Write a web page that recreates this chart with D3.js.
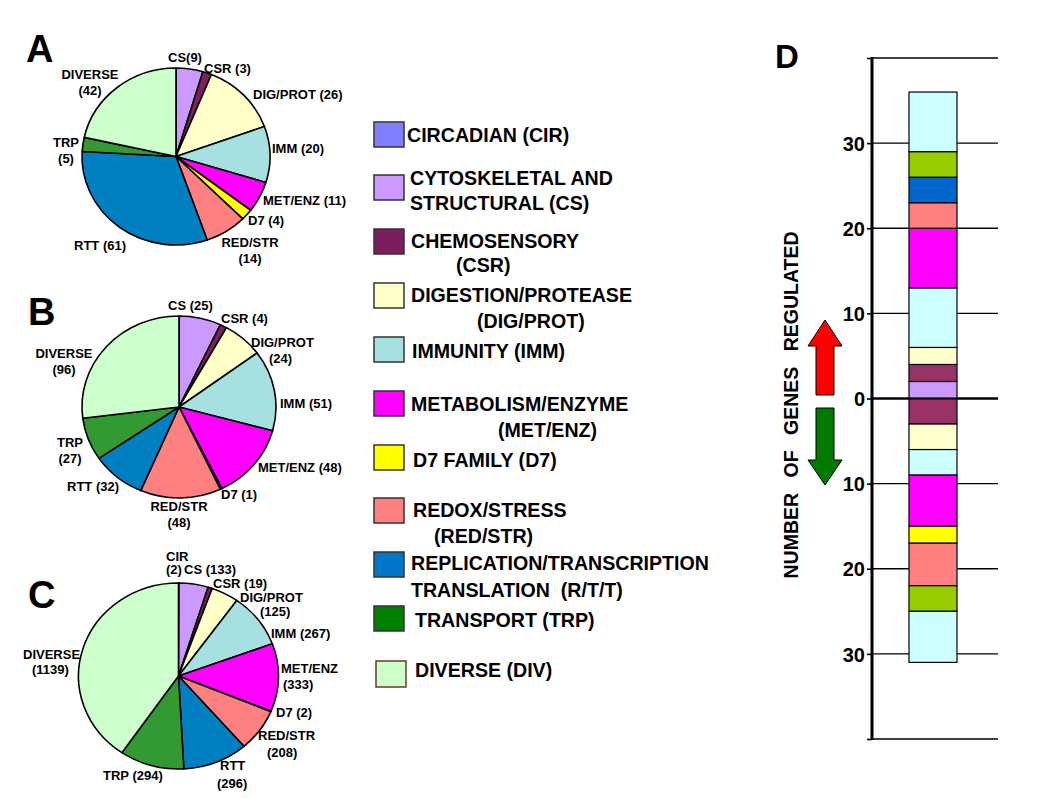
<!DOCTYPE html>
<html><head><meta charset="utf-8">
<script src="https://cdn.jsdelivr.net/npm/d3@7"></script>
<style>
body{margin:0;background:#fff}
text{font-family:"Liberation Sans",Arial,Helvetica,sans-serif;font-weight:bold;fill:#000}
</style>
</head><body>
<svg id="chart" width="1050" height="798"></svg>
<script>
// ---------------- DATA ----------------
const categories = ["CIR","CS","CSR","DIG/PROT","IMM","MET/ENZ","D7","RED/STR","RTT","TRP","DIVERSE"];
const valuesA = [0, 9, 3, 26, 20, 11, 4, 14, 61, 5, 42];
const valuesB = [0, 25, 4, 24, 51, 48, 1, 48, 32, 27, 96];
const valuesC = [2, 133, 19, 125, 267, 333, 2, 208, 296, 294, 1139];

const labelsA = [[], ["CS(9)"], ["CSR (3)"], ["DIG/PROT (26)"], ["IMM (20)"], ["MET/ENZ (11)"], ["D7 (4)"], ["RED/STR","(14)"], ["RTT (61)"], ["TRP","(5)"], ["DIVERSE","(42)"]];
const labelsB = [[], ["CS (25)"], ["CSR (4)"], ["DIG/PROT","(24)"], ["IMM (51)"], ["MET/ENZ (48)"], ["D7 (1)"], ["RED/STR","(48)"], ["RTT (32)"], ["TRP","(27)"], ["DIVERSE","(96)"]];
const labelsC = [["CIR","(2)"], ["CS (133)"], ["CSR (19)"], ["DIG/PROT","(125)"], ["IMM (267)"], ["MET/ENZ","(333)"], ["D7 (2)"], ["RED/STR","(208)"], ["RTT","(296)"], ["TRP (294)"], ["DIVERSE","(1139)"]];

const legendLabels = [
  ["CIRCADIAN (CIR)"],
  ["CYTOSKELETAL AND","STRUCTURAL (CS)"],
  ["CHEMOSENSORY","(CSR)"],
  ["DIGESTION/PROTEASE","(DIG/PROT)"],
  ["IMMUNITY (IMM)"],
  ["METABOLISM/ENZYME","(MET/ENZ)"],
  ["D7 FAMILY (D7)"],
  ["REDOX/STRESS","(RED/STR)"],
  ["REPLICATION/TRANSCRIPTION","TRANSLATION  (R/T/T)"],
  ["TRANSPORT (TRP)"],
  ["DIVERSE (DIV)"]
];

const dUpCats = ["CS","CSR","DIG/PROT","IMM","MET/ENZ","RED/STR","RTT","TRP","DIVERSE"];
const dUpCounts = [2, 2, 2, 7, 7, 3, 3, 3, 7];
const dDownCats = ["CSR","DIG/PROT","IMM","MET/ENZ","D7","RED/STR","TRP","DIVERSE"];
const dDownCounts = [3, 3, 3, 6, 2, 5, 3, 6];
const dTicks = [40, 30, 20, 10, 0, -10, -20, -30, -40];
const dAxisTitle = "NUMBER OF GENES REGULATED";

// ---------------- STYLES ----------------
const pieColors = {"CIR":"#8080ff","CS":"#cc99ff","CSR":"#7f1f5f","DIG/PROT":"#ffffc8","IMM":"#a6e0e0",
  "MET/ENZ":"#ff00ff","D7":"#ffff00","RED/STR":"#ff8080","RTT":"#0080c0","TRP":"#339933","DIVERSE":"#ccffcc"};
const legendColors = Object.assign({}, pieColors, {"TRP":"#007f00","CSR":"#7a1f5c","RTT":"#0077c8"});
const dColors = {"CS":"#cc99ff","CSR":"#993366","DIG/PROT":"#ffffcc","IMM":"#ccffff","MET/ENZ":"#ff00ff",
  "D7":"#ffff00","RED/STR":"#ff8080","RTT":"#0066cc","TRP":"#99cc00","DIVERSE":"#ccffff"};

const svg = d3.select("#chart");

// ---------------- PIES ----------------
const pies = [
  {letter:"A", lx:26, ly:62, values:valuesA, labels:labelsA, cx:176, cy:156.5, rx:94, ry:88.5,
   pos:[null,[168,62,"start"],[204,73,"start"],[253,99,"start"],[272,153,"start"],[263,205,"start"],[248,225,"start"],[250,247,"middle"],[74,250,"start"],[66,147,"middle"],[90,79,"middle"]]},
  {letter:"B", lx:28, ly:325, values:valuesB, labels:labelsB, cx:179, cy:407, rx:97, ry:91,
   pos:[null,[168,310,"start"],[221,323,"start"],[[251,347,"start"],[269,363,"start"]],[280,408,"start"],[258,472,"start"],[221,499,"start"],[179,511,"middle"],[67,491,"start"],[70,447,"middle"],[64,358,"middle"]]},
  {letter:"C", lx:28, ly:608, values:valuesC, labels:labelsC, cx:178.5, cy:676, rx:100, ry:93,
   pos:[[[166,561,"start"],[166,574,"start"]],[184,574,"start"],[213,588,"start"],[[240,602,"start"],[260,616,"start"]],[271,638,"start"],[[281,673,"start"],[283,689,"start"]],[276,717,"start"],[[258,740,"start"],[267,757,"start"]],[[220,770,"start"],[217,788,"start"]],[103,780,"start"],[[23,659,"start"],[32,674,"start"]]]}
];

const pieGen = d3.pie().sort(null).value(d => d.v);

pies.forEach(p => {
  svg.append("text").attr("x", p.lx).attr("y", p.ly).attr("font-size", 38).text(p.letter);
  const data = categories.map((c, i) => ({cat:c, v:p.values[i], i})).filter(d => d.v > 0);
  const arc = d3.arc().innerRadius(0).outerRadius(p.ry);
  const g = svg.append("g").attr("transform", `translate(${p.cx},${p.cy}) scale(${p.rx/p.ry},1)`);
  g.selectAll("path").data(pieGen(data)).join("path")
    .attr("d", arc)
    .attr("fill", d => pieColors[d.data.cat])
    .attr("stroke", "#000").attr("stroke-width", 1.6)
    .attr("stroke-linejoin", "round")
    .attr("vector-effect", "non-scaling-stroke");
  // labels
  categories.forEach((c, i) => {
    const lines = p.labels[i];
    const pos = p.pos[i];
    if (!lines.length || !pos) return;
    lines.forEach((ln, k) => {
      let x, y, anchor;
      if (Array.isArray(pos[0])) { [x, y, anchor] = pos[k]; }
      else { x = pos[0]; y = pos[1] + k * 16; anchor = pos[2]; }
      svg.append("text").attr("x", x).attr("y", y).attr("font-size", 13)
        .attr("text-anchor", anchor).text(ln);
    });
  });
});

// ---------------- LEGEND ----------------
const legendRows = [
  {sy:122, lines:[[407,142,"start"]]},
  {sy:175, lines:[[410,185,"start"],[410,210,"start"]]},
  {sy:229, lines:[[411,248,"start"],[456,272,"start"]]},
  {sy:283, lines:[[411,302,"start"],[477,328,"start"]]},
  {sy:337, lines:[[412,358,"start"]]},
  {sy:391, lines:[[411,411,"start"],[498,437,"start"]]},
  {sy:445, lines:[[413,467,"start"]]},
  {sy:498, lines:[[413,517,"start"],[434,543,"start"]]},
  {sy:552, lines:[[411,570,"start"],[411,597,"start"]]},
  {sy:606, lines:[[415,627,"start"]]},
  {sy:661, lines:[[415,677,"start"]]}
];
const lg = svg.append("g");
categories.forEach((c, i) => {
  const r = legendRows[i];
  lg.append("rect").attr("x", i === 10 ? 376 : 374).attr("y", r.sy).attr("width", 30).attr("height", i === 10 ? 26 : 25)
    .attr("fill", legendColors[c]).attr("stroke", i === 10 ? "#6b3a2a" : "#333").attr("stroke-width", 1.5);
  legendLabels[i].forEach((ln, k) => {
    const [x, y, a] = r.lines[k];
    lg.append("text").attr("x", x).attr("y", y).attr("font-size", 19.6).attr("text-anchor", a)
      .attr("xml:space", "preserve").style("white-space", "pre").text(ln);
  });
});

// ---------------- PANEL D ----------------
svg.append("text").attr("x", 775).attr("y", 68).attr("font-size", 33).text("D");

const y = d3.scaleLinear().domain([40, -40]).range([58, 739]);
const axisX = 872, gridEnd = 998, barX0 = 909, barX1 = 957;

// gridlines
svg.append("g").selectAll("line").data(dTicks).join("line")
  .attr("x1", axisX).attr("x2", gridEnd)
  .attr("y1", d => y(d)).attr("y2", d => y(d))
  .attr("stroke", "#000").attr("stroke-width", d => d === 0 ? 2.6 : 1.4);

// stacked bar
function stackSegs(cats, counts, sign) {
  let acc = 0;
  return cats.map((c, i) => { const a = acc; acc += counts[i];
    return {cat:c, y0:sign * a, y1:sign * acc}; });
}
const segs = stackSegs(dUpCats, dUpCounts, 1).concat(stackSegs(dDownCats, dDownCounts, -1));
svg.append("g").selectAll("rect").data(segs).join("rect")
  .attr("x", barX0).attr("width", barX1 - barX0)
  .attr("y", d => Math.min(y(d.y0), y(d.y1)))
  .attr("height", d => Math.abs(y(d.y1) - y(d.y0)))
  .attr("fill", d => dColors[d.cat]).attr("stroke", "#000").attr("stroke-width", 1.2);

// zero line over bar
svg.append("line").attr("x1", barX0).attr("x2", barX1).attr("y1", y(0)).attr("y2", y(0))
  .attr("stroke", "#000").attr("stroke-width", 2.2);

// axis
const axis = d3.axisLeft(y).tickValues(dTicks).tickSize(5).tickPadding(2)
  .tickFormat(d => Math.abs(d) === 40 ? "" : Math.abs(d));
const ag = svg.append("g").attr("transform", `translate(${axisX},0)`).call(axis);
ag.select(".domain").remove();
ag.selectAll(".tick line").attr("stroke", "#000").attr("stroke-width", 1.6);
ag.selectAll(".tick text").attr("font-size", 20).attr("font-family", null).attr("fill", "#000")
  .attr("dy", "0.36em");
svg.append("line").attr("x1", axisX).attr("x2", axisX).attr("y1", y(40) - 1).attr("y2", y(-40) + 1)
  .attr("stroke", "#000").attr("stroke-width", 3);

// axis title
svg.append("text").attr("transform", `translate(798,405) rotate(-90)`)
  .attr("text-anchor", "middle").attr("font-size", 19.5).attr("word-spacing", "10px")
  .text(dAxisTitle);

// arrows
function arrowPath(x0, x1, hx0, hx1, tipY, headY, endY) {
  const xm = (hx0 + hx1) / 2;
  return `M${xm},${tipY} L${hx1},${headY} L${x1},${headY} L${x1},${endY} L${x0},${endY} L${x0},${headY} L${hx0},${headY} Z`;
}
svg.append("path").attr("d", arrowPath(816, 834, 808, 842, 320, 346, 395))
  .attr("fill", "#ff0000").attr("stroke", "#000").attr("stroke-width", 1);
svg.append("path").attr("d", arrowPath(816, 834, 808, 842, 485, 460, 408))
  .attr("fill", "#007a00").attr("stroke", "#000").attr("stroke-width", 1);
</script>
</body></html>
